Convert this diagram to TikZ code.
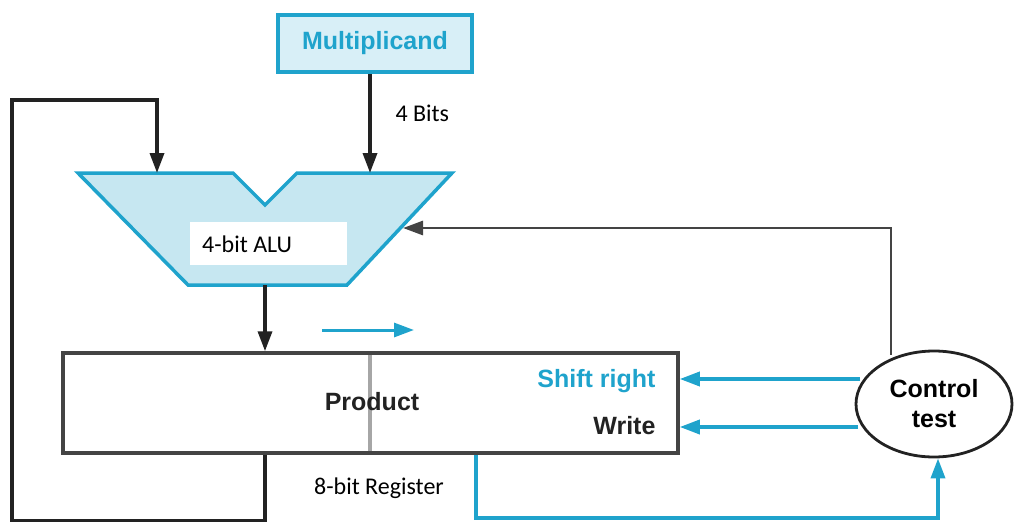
\documentclass[tikz,border=0pt]{standalone}
\usepackage{fontspec}
\setmainfont{Liberation Sans}
\newfontfamily\calib{Carlito}
\usetikzlibrary{arrows.meta,shapes.geometric}
\definecolor{cyanl}{HTML}{1FA3CC}
\definecolor{alufill}{HTML}{C6E7F1}
\definecolor{mfill}{HTML}{D8EFF7}
\definecolor{dk}{HTML}{222222}
\definecolor{gr}{HTML}{444444}
\tikzset{
  tip/.style={-{Triangle[length=20pt,width=14pt]}},
  blk/.style={draw=dk,line width=3.5pt,tip},
  blkline/.style={draw=dk,line width=3.5pt},
  blu/.style={draw=cyanl,line width=3.5pt,tip},
  bluline/.style={draw=cyanl,line width=3.5pt},
  grarr/.style={draw=gr,line width=2.8pt,tip},
  helv/.style={font=\bfseries\fontsize{25}{28}\selectfont},
  cal/.style={font=\calib\fontsize{24}{28}\selectfont},
}
\begin{document}
\begin{tikzpicture}[x=1pt,y=-1pt]
\useasboundingbox (0,0) rectangle (1015,522);
% Multiplicand
\node[draw=cyanl,fill=mfill,line width=3.5pt,minimum width=194pt,minimum height=57pt,inner sep=0pt,
  text=cyanl,font=\bfseries\fontsize{25}{28}\selectfont] (mult) at (375,43.5) {Multiplicand};
% ALU
\coordinate (aluTL) at (78,173);
\coordinate (aluN1) at (233,173);
\coordinate (aluNB) at (265,205);
\coordinate (aluN2) at (297,173);
\coordinate (aluTR) at (452,173);
\coordinate (aluBR) at (347,285);
\coordinate (aluBL) at (188,285);
\fill[alufill] (aluTL) -- (aluN1) -- (aluNB) -- (aluN2) -- (aluTR) -- (aluBR) -- (aluBL) -- cycle;
\draw[cyanl,line width=3.5pt,line join=miter] (aluTL) -- (aluN1) -- (aluNB) -- (aluN2) -- (aluTR) -- (aluBR) -- (aluBL) -- cycle;
\node[fill=white,minimum width=157pt,minimum height=43pt,inner sep=0pt] (alubox) at (268.5,243.5) {};
\node[cal,anchor=west,inner sep=0pt] (alu) at (202,244) {4-bit ALU};
\coordinate (aluInR) at (370,173);
\coordinate (aluInL) at (157,173);
\coordinate (aluOut) at (265,285);
\coordinate (aluSide) at (403,228);
% Product register
\node[draw=gr,line width=3.5pt,minimum width=615pt,minimum height=100pt,inner sep=0pt] (prod) at (370.5,403) {};
\draw[gray!70,line width=4pt] (370,355) -- (370,451);
\node[helv,text=dk] (ptxt) at (372,402) {Product};
\node[helv,text=cyanl,anchor=east] (shift) at (659,381) {Shift right};
\node[helv,text=dk,anchor=east] (write) at (659,426) {Write};
\node[cal] (reg) at (379,488) {8-bit Register};
% Control
\node[draw=dk,line width=2.8pt,ellipse,minimum width=156pt,minimum height=106pt,inner sep=0pt,
  helv,align=center] (ctrl) at (934,404) {Control\\[2pt]test};
% multiplicand -> ALU
\draw[blk] (mult.south -| aluInR) -- (aluInR);
\node[cal,anchor=west] (bits) at (392,113) {4 Bits};
% ALU -> product
\draw[blk] (aluOut) -- (aluOut |- prod.north);
% feedback loop from product to ALU left input
\coordinate (fbA) at (265,521);
\coordinate (fbB) at (12,521);
\coordinate (fbC) at (12,100);
\coordinate (fbD) at (157,100);
\draw[blkline] (fbA |- prod.south) -- (fbA) -- (fbB) -- (fbC) -- (fbD) -- ++(0,2);
\draw[blk] (fbD) -- (aluInL);
% control -> ALU
\coordinate (cA) at (891,228);
\draw[grarr] (ctrl.north -| cA) ++(0,5) -- (cA) -- (aluSide);
% control -> shift, write
\coordinate (sh1) at (860,379);
\coordinate (wr1) at (858,427);
\draw[blu] (sh1) -- (prod.east |- sh1);
\draw[blu] (wr1) -- (prod.east |- wr1);
% product -> control test
\coordinate (tA) at (476,518);
\coordinate (tB) at (938,518);
\draw[bluline] (tA |- prod.south) -- (tA) -- (tB) -- ++(0,-2);
\draw[blu] (tB) -- (tB |- ctrl.south);
% shift direction arrow
\coordinate (sa1) at (322,330);
\coordinate (sa2) at (414,330);
\draw[blu,line width=3pt] (sa1) -- (sa2);
\end{tikzpicture}
\end{document}
